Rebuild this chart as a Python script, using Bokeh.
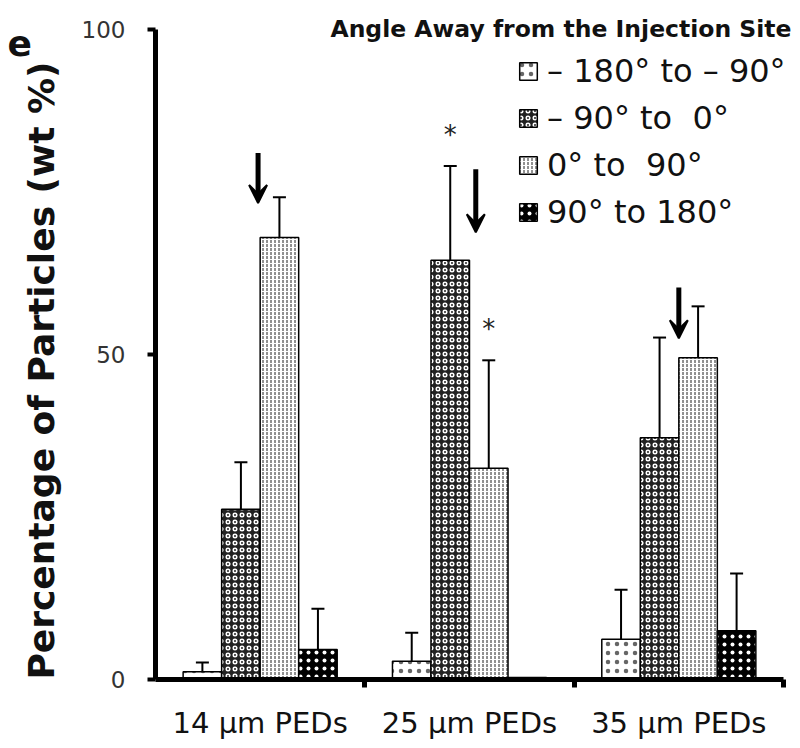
import math
from bokeh.plotting import figure
from bokeh.models import (ColumnDataSource, Range1d, FixedTicker, Whisker, TeeHead,
                          Arrow, VeeHead, Legend, LegendItem, Label)
from bokeh.core.properties import value
from bokeh.embed import file_html
from bokeh.resources import INLINE

# ---------------- data ----------------
groups = ["14 µm PEDs", "25 µm PEDs", "35 µm PEDs"]
series_names = ["– 180° to – 90°", "– 90° to  0°", "0° to  90°", "90° to 180°"]

s1_mean = [1.2, 2.8, 6.2]
s1_err = [1.4, 4.4, 7.6]
s2_mean = [26.2, 64.5, 37.2]
s2_err = [7.2, 14.5, 15.4]
s3_mean = [68.0, 32.5, 49.5]
s3_err = [6.2, 16.6, 7.9]
s4_mean = [4.6, 0.3, 7.5]
s4_err = [6.3, 0.0, 8.8]

# significance stars: (group index, series index)
star_group = [1, 1]
star_series = [1, 2]

# arrows marking each group (x in group units, y in wt %)
arrow_x = [-0.01, 1.03, 2.0]
arrow_top = [81.0, 78.5, 60.3]
arrow_tip = [73.3, 68.8, 52.5]

y_ticks = [0, 50, 100]

means = [s1_mean, s2_mean, s3_mean, s4_mean]
errs = [s1_err, s2_err, s3_err, s4_err]

# ---------------- styles ----------------
FONT = "DejaVu Sans"
bar_w = 0.184
offsets = [-1.5 * bar_w, -0.5 * bar_w, 0.5 * bar_w, 1.5 * bar_w]
styles = [
    dict(fill_color="white", hatch_pattern="dot", hatch_color="black", hatch_scale=9, hatch_alpha=0.6),
    dict(fill_color="#222222", hatch_pattern="ring", hatch_color="white", hatch_scale=7, hatch_weight=1.5),
    dict(fill_color="white", hatch_pattern="vertical_dash", hatch_color="#222", hatch_scale=4, hatch_weight=1),
    dict(fill_color="black", hatch_pattern="dot", hatch_color="white", hatch_scale=8, hatch_weight=2),
]

p = figure(width=800, height=748, x_range=Range1d(-0.5, 2.5717), y_range=Range1d(0, 102.6),
           output_backend="svg", toolbar_location=None,
           min_border_left=155, min_border_right=2, min_border_top=12, min_border_bottom=69)
p.grid.visible = False
p.outline_line_color = None
p.background_fill_color = "white"

items = []
for k in range(4):
    xs = [g + offsets[k] for g in range(len(groups))]
    src = ColumnDataSource(dict(x=xs, top=means[k]))
    r = p.vbar(x="x", top="top", bottom=0, width=bar_w, source=src,
               line_color="black", line_width=1.5, **styles[k])
    items.append(LegendItem(label=series_names[k], renderers=[r]))
    wx, wl, wu = [], [], []
    for g in range(len(groups)):
        if errs[k][g] > 0:
            wx.append(xs[g]); wl.append(means[k][g]); wu.append(means[k][g] + errs[k][g])
    wsrc = ColumnDataSource(dict(x=wx, lower=wl, upper=wu))
    p.add_layout(Whisker(base="x", lower="lower", upper="upper", source=wsrc,
                         line_color="black", line_width=2, lower_head=None,
                         upper_head=TeeHead(size=13, line_width=2, line_color="black")))

# stars
sx = [star_group[i] + offsets[star_series[i]] for i in range(len(star_group))]
sy = [means[star_series[i]][star_group[i]] + errs[star_series[i]][star_group[i]] + 2.5
      for i in range(len(star_group))]
p.text(x=sx, y=sy, text=["*"] * len(sx), text_font=value(FONT), text_font_size="26px",
       text_align="center", text_baseline="bottom", text_color="#222")

# arrows
for i in range(len(arrow_x)):
    p.add_layout(Arrow(x_start=arrow_x[i], y_start=arrow_top[i], x_end=arrow_x[i], y_end=arrow_tip[i],
                       line_width=5, line_color="black",
                       end=VeeHead(size=18, fill_color="black", line_color="black", line_width=2)))

# axes
yax = p.yaxis[0]
yax.ticker = FixedTicker(ticks=y_ticks, minor_ticks=[])
yax.bounds = (0, 100)
yax.axis_line_width = 5
yax.major_tick_line_width = 4
yax.major_tick_out = 8
yax.major_tick_in = 0
yax.major_label_standoff = 22
yax.major_label_text_font = FONT
yax.major_label_text_font_size = "23px"
yax.major_label_text_color = "#333"

xax = p.xaxis[0]
xax.ticker = FixedTicker(ticks=[0, 1, 2], minor_ticks=[0.5, 1.5, 2.5])
xax.bounds = (-0.5, 2.5)
xax.major_label_overrides = {0: groups[0], 1: groups[1], 2: groups[2]}
xax.axis_line_width = 5
xax.major_tick_line_color = None
xax.major_tick_out = 0
xax.major_tick_in = 0
xax.minor_tick_out = 8
xax.minor_tick_in = 0
xax.minor_tick_line_width = 5
xax.major_label_standoff = 18
xax.major_label_text_font = FONT
xax.major_label_text_font_size = "29px"
xax.major_label_text_color = "#111"

# legend
legend = Legend(items=items, location=(362, 444), orientation="vertical",
                padding=0, margin=0, spacing=0, border_line_color=None,
                background_fill_alpha=0, glyph_width=22, glyph_height=22,
                label_height=47, label_standoff=8,
                label_text_font=FONT, label_text_font_size="32px", label_text_color="#111")
p.add_layout(legend)

p.add_layout(Label(x=636, y=651, x_units="screen", y_units="screen",
                   text="Angle Away from the Injection Site", text_align="right",
                   text_baseline="alphabetic", text_font=FONT, text_font_style="bold",
                   text_font_size="23.5px", text_color="#111"))

# y-axis title and panel letter, placed in the left border
p.add_layout(Label(x=4, y=309, x_units="screen", y_units="screen", angle=math.pi / 2,
                   text="Percentage of Particles (wt %)", text_align="center", text_baseline="middle",
                   text_font=FONT, text_font_style="bold", text_font_size="36px",
                   text_color="#111"), "left")
p.add_layout(Label(x=-6, y=637, x_units="screen", y_units="screen",
                   text="e", text_align="left", text_baseline="alphabetic",
                   text_font=FONT, text_font_style="bold",
                   text_font_size="36px", text_color="#111"), "left")

open("out.html", "w").write(file_html(p, INLINE))
